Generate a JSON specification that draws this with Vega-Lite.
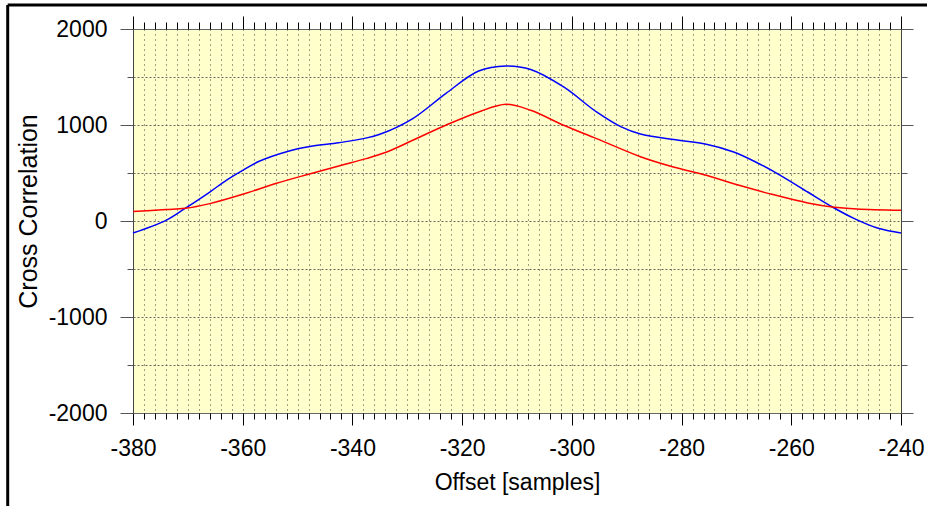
{
  "$schema": "https://vega.github.io/schema/vega-lite/v6.json",
  "width": 768,
  "height": 384,
  "autosize": {"type": "none"},
  "padding": {"left": 133, "top": 29, "right": 26, "bottom": 93},
  "background": "white",
  "config": {
    "view": {"fill": "#ffffcc", "stroke": null},
    "font": "Liberation Sans",
    "axis": {"labelFont": "Liberation Sans", "titleFont": "Liberation Sans", "labelColor": "black", "titleColor": "black", "labelFontSize": 23, "titleFontSize": 23, "titleFontWeight": "normal"}
  },
  "data": {
    "values": [
      {"x": -380, "y": -125, "s": "A"},
      {"x": -374, "y": 7, "s": "A"},
      {"x": -370.5, "y": 132, "s": "A"},
      {"x": -366, "y": 302, "s": "A"},
      {"x": -363, "y": 424, "s": "A"},
      {"x": -360, "y": 528, "s": "A"},
      {"x": -357, "y": 622, "s": "A"},
      {"x": -352, "y": 722, "s": "A"},
      {"x": -347.5, "y": 778, "s": "A"},
      {"x": -342.5, "y": 815, "s": "A"},
      {"x": -338, "y": 858, "s": "A"},
      {"x": -335, "y": 903, "s": "A"},
      {"x": -329, "y": 1067, "s": "A"},
      {"x": -323, "y": 1327, "s": "A"},
      {"x": -317, "y": 1563, "s": "A"},
      {"x": -312, "y": 1615, "s": "A"},
      {"x": -307.5, "y": 1578, "s": "A"},
      {"x": -301.5, "y": 1396, "s": "A"},
      {"x": -295.5, "y": 1136, "s": "A"},
      {"x": -291, "y": 980, "s": "A"},
      {"x": -287.5, "y": 906, "s": "A"},
      {"x": -281.5, "y": 848, "s": "A"},
      {"x": -275.5, "y": 799, "s": "A"},
      {"x": -270.5, "y": 719, "s": "A"},
      {"x": -266.5, "y": 615, "s": "A"},
      {"x": -262, "y": 476, "s": "A"},
      {"x": -257, "y": 302, "s": "A"},
      {"x": -252.5, "y": 146, "s": "A"},
      {"x": -248.5, "y": 25, "s": "A"},
      {"x": -244, "y": -79, "s": "A"},
      {"x": -240, "y": -125, "s": "A"},
      {"x": -380, "y": 98, "s": "B"},
      {"x": -374, "y": 119, "s": "B"},
      {"x": -370.5, "y": 132, "s": "B"},
      {"x": -366, "y": 181, "s": "B"},
      {"x": -360, "y": 278, "s": "B"},
      {"x": -354, "y": 390, "s": "B"},
      {"x": -348, "y": 487, "s": "B"},
      {"x": -342, "y": 580, "s": "B"},
      {"x": -337.5, "y": 650, "s": "B"},
      {"x": -334, "y": 713, "s": "B"},
      {"x": -329, "y": 841, "s": "B"},
      {"x": -323, "y": 997, "s": "B"},
      {"x": -317, "y": 1136, "s": "B"},
      {"x": -312, "y": 1216, "s": "B"},
      {"x": -307.5, "y": 1153, "s": "B"},
      {"x": -301.5, "y": 997, "s": "B"},
      {"x": -295.5, "y": 858, "s": "B"},
      {"x": -287.5, "y": 670, "s": "B"},
      {"x": -281.5, "y": 563, "s": "B"},
      {"x": -275.5, "y": 476, "s": "B"},
      {"x": -269.5, "y": 372, "s": "B"},
      {"x": -263.5, "y": 278, "s": "B"},
      {"x": -257, "y": 188, "s": "B"},
      {"x": -252.5, "y": 146, "s": "B"},
      {"x": -248, "y": 125, "s": "B"},
      {"x": -240, "y": 111, "s": "B"}
    ]
  },
  "resolve": {"axis": {"x": "independent", "y": "independent"}},
  "layer": [
    {
      "mark": {"type": "line", "strokeWidth": 1.5, "interpolate": "catmull-rom"},
      "encoding": {
        "x": {"field": "x", "type": "quantitative", "scale": {"domain": [-380, -240], "nice": false, "zero": false},
          "axis": {"orient": "bottom", "values": [-380, -360, -340, -320, -300, -280, -260, -240], "labelExpr": "'' + datum.value", "tickSize": 12, "tickColor": "black", "domainColor": "#666", "labelPadding": 12, "title": "Offset [samples]", "titlePadding": 11, "grid": false, "labelFlush": false}},
        "y": {"field": "y", "type": "quantitative", "scale": {"domain": [-2000, 2000], "nice": false, "zero": false},
          "axis": {"orient": "left", "values": [-2000, -1000, 0, 1000, 2000], "labelExpr": "'' + datum.value", "tickSize": 13, "tickColor": "#555", "domainColor": "#444", "labelPadding": 13, "title": "Cross Correlation", "titleFontSize": 25, "titlePadding": 7, "titleY": 182, "grid": false, "labelFlush": false}},
        "color": {"field": "s", "type": "nominal", "scale": {"domain": ["A", "B"], "range": ["#0000ff", "#ff0000"]}, "legend": null}
      }
    },
    {
      "mark": {"type": "line", "opacity": 0},
      "encoding": {
        "x": {"field": "x", "type": "quantitative", "scale": {"domain": [-380, -240], "nice": false, "zero": false},
          "axis": {"orient": "bottom", "values": [-380,-378,-376,-374,-372,-370,-368,-366,-364,-362,-360,-358,-356,-354,-352,-350,-348,-346,-344,-342,-340,-338,-336,-334,-332,-330,-328,-326,-324,-322,-320,-318,-316,-314,-312,-310,-308,-306,-304,-302,-300,-298,-296,-294,-292,-290,-288,-286,-284,-282,-280,-278,-276,-274,-272,-270,-268,-266,-264,-262,-260,-258,-256,-254,-252,-250,-248,-246,-244,-242,-240], "labels": false, "tickSize": 6, "tickColor": "black", "domain": false, "grid": true, "gridColor": "black", "gridDash": [1, 4], "gridWidth": 1, "gridOpacity": 0.75, "title": null}},
        "y": {"field": "y", "type": "quantitative", "scale": {"domain": [-2000, 2000], "nice": false, "zero": false},
          "axis": {"orient": "left", "values": [-2000, -1500, -1000, -500, 0, 500, 1000, 1500, 2000], "labels": false, "tickSize": 6, "tickColor": "#555", "domain": false, "grid": true, "gridColor": "#666", "gridDash": [2, 2], "gridWidth": 1, "title": null}},
        "detail": {"field": "s"}
      }
    },
    {
      "mark": {"type": "line", "opacity": 0},
      "encoding": {
        "x": {"field": "x", "type": "quantitative", "scale": {"domain": [-380, -240], "nice": false, "zero": false},
          "axis": {"orient": "top", "values": [-380, -360, -340, -320, -300, -280, -260, -240], "labels": false, "tickSize": 13, "tickColor": "black", "domainColor": "#666", "grid": false, "title": null}},
        "y": {"field": "y", "type": "quantitative", "scale": {"domain": [-2000, 2000], "nice": false, "zero": false},
          "axis": {"orient": "right", "values": [-2000, -1000, 0, 1000, 2000], "labels": false, "tickSize": 12, "tickColor": "#555", "domainColor": "#444", "grid": false, "title": null}},
        "detail": {"field": "s"}
      }
    },
    {
      "mark": {"type": "line", "opacity": 0},
      "encoding": {
        "x": {"field": "x", "type": "quantitative", "scale": {"domain": [-380, -240], "nice": false, "zero": false},
          "axis": {"orient": "top", "values": [-380,-378,-376,-374,-372,-370,-368,-366,-364,-362,-360,-358,-356,-354,-352,-350,-348,-346,-344,-342,-340,-338,-336,-334,-332,-330,-328,-326,-324,-322,-320,-318,-316,-314,-312,-310,-308,-306,-304,-302,-300,-298,-296,-294,-292,-290,-288,-286,-284,-282,-280,-278,-276,-274,-272,-270,-268,-266,-264,-262,-260,-258,-256,-254,-252,-250,-248,-246,-244,-242,-240], "labels": false, "tickSize": 7, "tickColor": "black", "domain": false, "grid": false, "title": null}},
        "y": {"field": "y", "type": "quantitative", "scale": {"domain": [-2000, 2000], "nice": false, "zero": false},
          "axis": {"orient": "right", "values": [-2000, -1500, -1000, -500, 0, 500, 1000, 1500, 2000], "labels": false, "tickSize": 6, "tickColor": "#555", "domain": false, "grid": false, "title": null}},
        "detail": {"field": "s"}
      }
    },
    {
      "data": {"values": [{}]},
      "mark": {"type": "rule", "color": "black", "strokeWidth": 3, "clip": false},
      "encoding": {
        "x": {"datum": -402.84, "type": "quantitative", "scale": {"domain": [-380, -240], "nice": false, "zero": false}, "axis": null},
        "y": {"datum": 2250, "type": "quantitative", "scale": {"domain": [-2000, 2000], "nice": false, "zero": false}, "axis": null},
        "y2": {"datum": -3100}
      }
    },
    {
      "data": {"values": [{}]},
      "mark": {"type": "rule", "color": "black", "strokeWidth": 3, "clip": false},
      "encoding": {
        "x": {"datum": -402.84, "type": "quantitative", "scale": {"domain": [-380, -240], "nice": false, "zero": false}, "axis": null},
        "x2": {"datum": -225},
        "y": {"datum": 2250, "type": "quantitative", "scale": {"domain": [-2000, 2000], "nice": false, "zero": false}, "axis": null}
      }
    }
  ]
}
